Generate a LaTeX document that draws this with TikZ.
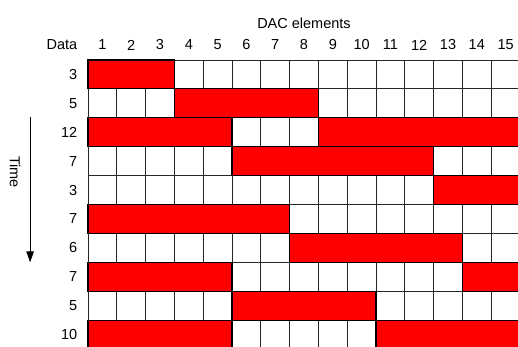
\documentclass[tikz,border=0pt]{standalone}
\usepackage{fontspec}
\setmainfont{Liberation Sans}
\usetikzlibrary{arrows.meta}
\definecolor{barred}{RGB}{255,0,0}
\tikzset{
  cellline/.style={black!85, line width=0.8pt},
  redbar/.style={fill=barred, draw=black, line width=1.1pt},
  timearrow/.style={line width=0.9pt, -{Triangle[length=11pt,width=7.5pt]}},
}

\begin{document}
\begin{tikzpicture}[x=28.8pt,y=-28.9pt,font=\fontsize{14.5}{17}\selectfont]
  \useasboundingbox (-88pt,60pt) rectangle (430pt,-287pt);
  \clip (-88pt,60pt) rectangle (430pt,-287pt);
  % empty cells
  \foreach \c in {0,...,15} \draw[cellline] (\c,0) -- (\c,10);
  \foreach \r in {0,...,10} \draw[cellline] (0,\r) -- (15,\r);
  % elements in use, one row per sample
  \draw[redbar] (0,0) rectangle (3,1);
  \draw[redbar] (3,1) rectangle (8,2);
  \draw[redbar] (0,2) rectangle (5,3);
  \draw[redbar] (8,2) rectangle (16,3);
  \draw[redbar] (5,3) rectangle (12,4);
  \draw[redbar] (12,4) rectangle (16,5);
  \draw[redbar] (0,5) rectangle (7,6);
  \draw[redbar] (7,6) rectangle (13,7);
  \draw[redbar] (0,7) rectangle (5,8);
  \draw[redbar] (13,7) rectangle (16,8);
  \draw[redbar] (5,8) rectangle (10,9);
  \draw[redbar] (0,9) rectangle (5,10);
  \draw[redbar] (10,9) rectangle (16,10);
  % labels
  \node (dac) at (7.5,-1.28) {DAC elements};
  \node[anchor=east] (data) at (-0.25,-0.52) {Data};
  \foreach \c in {1,...,15} \node (col\c) at (\c-0.5,-0.52) {\c};
  \foreach \v [count=\r] in {3,5,12,7,3,7,6,7,5,10}
    \node[anchor=east] (row\r) at (-0.25,\r-0.5) {\v};
  % time axis
  \coordinate (tstart) at (-2.01,1.97);
  \coordinate (tend) at (-2.01,7.0);
  \draw[timearrow] (tstart) -- (tend);
  \node[rotate=-90] (time) at (-2.53,3.88) {Time};
\end{tikzpicture}
\end{document}
